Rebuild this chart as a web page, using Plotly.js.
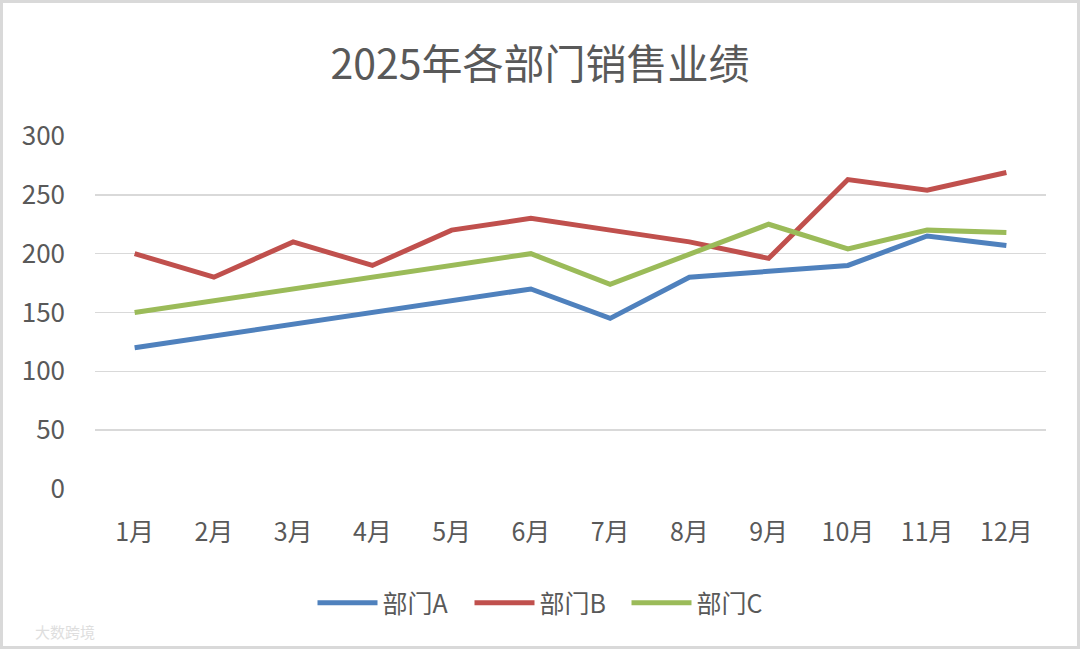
<!DOCTYPE html>
<html>
<head>
<meta charset="utf-8">
<script src="https://cdn.plot.ly/plotly-3.0.1.min.js"></script>
<style>
  html, body { margin: 0; padding: 0; background: #ffffff; }
  #wrap { position: relative; width: 1080px; height: 649px; }
  #chart { width: 1080px; height: 649px; }
  #frame { position: absolute; left: 0; top: 0; width: 1080px; height: 649px; box-sizing: border-box;
           border: 3px solid #d9d9d9; pointer-events: none; }
</style>
</head>
<body>
<div id="wrap">
  <div id="chart"></div>
  <div id="frame"></div>
</div>
<script>
const months = ['1月','2月','3月','4月','5月','6月','7月','8月','9月','10月','11月','12月'];
const deptA = [120, 130, 140, 150, 160, 170, 145, 180, 185, 190, 215, 207];
const deptB = [200, 180, 210, 190, 220, 230, 220, 210, 196, 263, 254, 269];
const deptC = [150, 160, 170, 180, 190, 200, 174, 200, 225, 204, 220, 218];
const seriesNames = ['部门A', '部门B', '部门C'];
const yTicks = [0, 50, 100, 150, 200, 250, 300];

const font = '"Noto Sans CJK SC", "Noto Sans", sans-serif';
const colors = ['#4F81BD', '#C0504D', '#9BBB59'];
const dataSets = [deptA, deptB, deptC];

const traces = dataSets.map((vals, i) => ({
  type: 'scatter',
  mode: 'lines',
  x: months,
  y: vals,
  name: seriesNames[i],
  line: { color: colors[i], width: 5, shape: 'linear' },
  hoverinfo: 'x+y+name'
}));

const layout = {
  width: 1080,
  height: 649,
  paper_bgcolor: '#ffffff',
  plot_bgcolor: '#ffffff',
  margin: { l: 95, r: 34, t: 136, b: 160 },
  title: {
    text: '2025年各部门销售业绩',
    font: { family: font, size: 41, color: '#595959' },
    x: 0.5, xanchor: 'center',
    y: 1 - 65 / 649, yanchor: 'middle', yref: 'container'
  },
  xaxis: {
    type: 'category',
    range: [-0.5, 11.5],
    showgrid: false,
    zeroline: false,
    showline: false,
    ticks: '',
    ticklabelstandoff: 26,
    tickfont: { family: font, size: 25, color: '#595959' }
  },
  yaxis: {
    range: [0, 300],
    tickvals: yTicks,
    ticktext: yTicks.map(String),
    showgrid: true,
    gridcolor: '#d9d9d9',
    gridwidth: 1.5,
    zeroline: false,
    showline: false,
    ticks: '',
    ticklabelstandoff: 29,
    tickfont: { family: font, size: 26, color: '#595959' }
  },
  showlegend: true,
  legend: {
    orientation: 'h',
    x: (548 - 95) / 951, xanchor: 'center',
    y: -(603 - 489) / 353, yanchor: 'middle',
    font: { family: font, size: 25, color: '#595959' },
    itemwidth: 60,
    entrywidth: 82,
    tracegroupgap: 0
  },
  annotations: [{
    text: '大数跨境',
    xref: 'paper', yref: 'paper',
    x: (33 - 95) / 951, y: -(631 - 489) / 353,
    xanchor: 'left', yanchor: 'middle',
    showarrow: false,
    font: { family: font, size: 15, color: '#dedede' }
  }]
};

Plotly.newPlot('chart', traces, layout, { displayModeBar: false, staticPlot: true });
</script>
</body>
</html>
